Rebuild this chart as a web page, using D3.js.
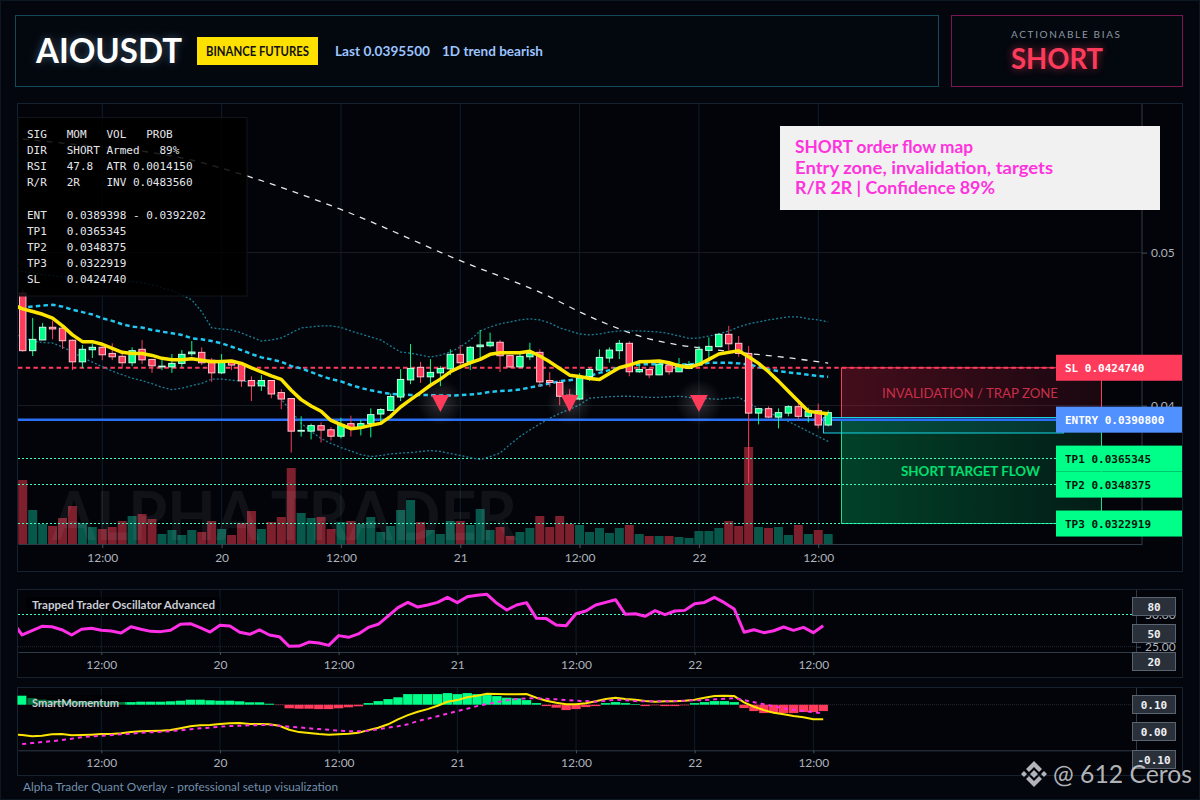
<!DOCTYPE html>
<html>
<head>
<meta charset="utf-8">
<script src="https://cdn.jsdelivr.net/npm/d3@7"></script>
<style>
  html, body { margin: 0; padding: 0; background: #03060d; }
  svg { display: block; }
  .ui { font-family: Lato, "Open Sans", sans-serif; }
  .mono { font-family: "DejaVu Sans Mono", "Liberation Mono", monospace; white-space: pre; }
</style>
</head>
<body>
<div id="chart"></div>
<script>
// hourly candles, first one is 19th 04:00
var opens = [0.04735,0.04359,0.04429,0.04512,0.04506,0.04427,0.04286,0.04365,0.04381,0.04341,0.04322,0.04280,0.04368,0.04302,0.04253,0.04253,0.04276,0.04339,0.04348,0.04297,0.04214,0.04284,0.04271,0.04164,0.04129,0.04164,0.04085,0.04046,0.03833,0.03833,0.03869,0.03842,0.03800,0.03882,0.03856,0.03882,0.03945,0.03969,0.04056,0.04168,0.04250,0.04188,0.04214,0.04240,0.04335,0.04286,0.04385,0.04391,0.04414,0.04328,0.04253,0.04319,0.04348,0.04164,0.04151,0.04068,0.04043,0.04190,0.04232,0.04311,0.04359,0.04407,0.04221,0.04236,0.04201,0.04265,0.04221,0.04243,0.04265,0.04361,0.04385,0.04466,0.04407,0.04341,0.03951,0.03980,0.03925,0.03951,0.03993,0.03930,0.03967,0.03873];
var highs = [0.04757,0.04573,0.04540,0.04555,0.04508,0.04433,0.04396,0.04407,0.04396,0.04407,0.04337,0.04381,0.04429,0.04304,0.04302,0.04337,0.04363,0.04422,0.04381,0.04311,0.04337,0.04297,0.04284,0.04192,0.04199,0.04166,0.04107,0.04048,0.03930,0.03882,0.03890,0.03859,0.03921,0.03934,0.03908,0.03982,0.03982,0.04079,0.04238,0.04402,0.04286,0.04304,0.04258,0.04368,0.04396,0.04389,0.04494,0.04477,0.04429,0.04330,0.04343,0.04411,0.04368,0.04219,0.04166,0.04107,0.04212,0.04245,0.04368,0.04381,0.04429,0.04420,0.04286,0.04245,0.04284,0.04284,0.04311,0.04291,0.04389,0.04446,0.04475,0.04521,0.04455,0.04389,0.03982,0.03995,0.03982,0.04002,0.04035,0.03987,0.04013,0.03969];
var lows = [0.04352,0.04324,0.04429,0.04433,0.04370,0.04232,0.04245,0.04311,0.04297,0.04297,0.04250,0.04258,0.04271,0.04214,0.04232,0.04214,0.04250,0.04322,0.04265,0.04155,0.04206,0.04232,0.04122,0.04030,0.04096,0.04048,0.03976,0.03693,0.03798,0.03779,0.03759,0.03772,0.03785,0.03798,0.03805,0.03792,0.03892,0.03963,0.04030,0.04140,0.04148,0.04127,0.04127,0.04199,0.04265,0.04232,0.04297,0.04381,0.04219,0.04245,0.04251,0.04297,0.04122,0.04122,0.04002,0.03976,0.04035,0.04162,0.04232,0.04280,0.04304,0.04192,0.04214,0.04179,0.04199,0.04201,0.04219,0.04238,0.04258,0.04297,0.04383,0.04359,0.04319,0.03496,0.03877,0.03917,0.03851,0.03930,0.03908,0.03890,0.03851,0.03864];
var closes = [0.04359,0.04433,0.04512,0.04501,0.04424,0.04286,0.04368,0.04381,0.04332,0.04319,0.04280,0.04359,0.04299,0.04260,0.04258,0.04276,0.04335,0.04350,0.04280,0.04214,0.04286,0.04265,0.04162,0.04129,0.04164,0.04076,0.04043,0.03833,0.03838,0.03869,0.03840,0.03800,0.03877,0.03856,0.03882,0.03941,0.03974,0.04059,0.04171,0.04243,0.04188,0.04217,0.04243,0.04335,0.04280,0.04381,0.04396,0.04414,0.04326,0.04253,0.04322,0.04341,0.04155,0.04151,0.04061,0.04022,0.04181,0.04236,0.04315,0.04363,0.04407,0.04221,0.04236,0.04201,0.04271,0.04221,0.04265,0.04269,0.04368,0.04387,0.04466,0.04404,0.04341,0.03951,0.03980,0.03925,0.03954,0.03993,0.03930,0.03961,0.03873,0.03954];
var volumes = [64.3,34.3,20.3,18.3,26.3,38.3,21,17.3,15.3,17.3,23.3,28.3,30.3,25.3,10.3,14.3,9.3,14.3,12.3,23.3,15.3,9.3,21.3,33.3,15.3,22.3,27.3,76.3,31.3,26.3,27.3,15.3,22.3,23.3,20.3,27.3,12.3,18.3,34.3,44.3,22.3,14.3,10.3,23.3,23.3,19.3,35.3,14.3,17.3,8.3,12.3,16.3,28.3,17.3,28.3,20.3,19.3,12.3,16.3,11.3,16.3,19.3,10.3,8.3,8.3,8.3,7.3,6.3,13.3,13.3,16.3,23.3,18.3,97.3,17.3,16.3,17.3,9.3,19.3,10.3,14.3,10.3];

// the first value of these lines belongs to the candle cut off at the left edge
var emaFast = [0.04658,0.04632,0.04615,0.04597,0.04571,0.04521,0.04462,0.04418,0.04418,0.04401,0.04374,0.04348,0.04341,0.04341,0.04328,0.04309,0.04299,0.04299,0.04306,0.04297,0.04286,0.04289,0.04291,0.04276,0.04247,0.04221,0.04194,0.04171,0.04100,0.04039,0.03997,0.03963,0.03903,0.03875,0.03849,0.03856,0.03871,0.03884,0.03930,0.03991,0.04039,0.04085,0.04133,0.04173,0.04221,0.04253,0.04280,0.04302,0.04335,0.04345,0.04345,0.04345,0.04355,0.04324,0.04286,0.04243,0.04199,0.04190,0.04177,0.04171,0.04210,0.04247,0.04265,0.04286,0.04289,0.04291,0.04280,0.04260,0.04250,0.04269,0.04302,0.04337,0.04348,0.04359,0.04319,0.04276,0.04221,0.04160,0.04094,0.04028,0.03963,0.03954,0.03947];
var bbMid = [0.04636,0.04641,0.04647,0.04654,0.04659,0.04647,0.04626,0.04611,0.04595,0.04571,0.04554,0.04532,0.04516,0.04510,0.04494,0.04483,0.04473,0.04462,0.04440,0.04433,0.04422,0.04407,0.04385,0.04363,0.04337,0.04315,0.04302,0.04286,0.04258,0.04243,0.04219,0.04194,0.04173,0.04158,0.04135,0.04115,0.04100,0.04087,0.04076,0.04072,0.04070,0.04070,0.04068,0.04066,0.04066,0.04068,0.04072,0.04079,0.04089,0.04096,0.04098,0.04105,0.04118,0.04131,0.04144,0.04160,0.04166,0.04177,0.04194,0.04214,0.04232,0.04250,0.04258,0.04269,0.04271,0.04271,0.04269,0.04269,0.04269,0.04273,0.04280,0.04280,0.04280,0.04276,0.04269,0.04253,0.04236,0.04225,0.04217,0.04210,0.04201,0.04194,0.04188];
var bbUpper = [0.04880,0.04875,0.04869,0.04855,0.04849,0.04842,0.04842,0.04836,0.04829,0.04823,0.04823,0.04816,0.04810,0.04803,0.04790,0.04770,0.04751,0.04724,0.04691,0.04613,0.04508,0.04501,0.04494,0.04475,0.04448,0.04422,0.04429,0.04442,0.04475,0.04508,0.04514,0.04521,0.04521,0.04511,0.04488,0.04468,0.04448,0.04429,0.04389,0.04350,0.04343,0.04330,0.04317,0.04330,0.04350,0.04383,0.04429,0.04488,0.04514,0.04534,0.04547,0.04560,0.04567,0.04560,0.04540,0.04508,0.04488,0.04468,0.04462,0.04468,0.04481,0.04488,0.04488,0.04488,0.04485,0.04481,0.04471,0.04455,0.04439,0.04442,0.04455,0.04468,0.04488,0.04514,0.04534,0.04547,0.04560,0.04570,0.04580,0.04580,0.04567,0.04560,0.04547];
var bbLower = [0.04466,0.04448,0.04422,0.04412,0.04409,0.04383,0.04350,0.04314,0.04284,0.04255,0.04225,0.04202,0.04179,0.04163,0.04143,0.04120,0.04104,0.04114,0.04130,0.04146,0.04173,0.04173,0.04166,0.04160,0.04156,0.04140,0.04100,0.04041,0.03963,0.03884,0.03831,0.03785,0.03752,0.03726,0.03703,0.03680,0.03667,0.03674,0.03684,0.03690,0.03693,0.03700,0.03706,0.03700,0.03687,0.03674,0.03660,0.03647,0.03667,0.03690,0.03746,0.03798,0.03841,0.03880,0.03917,0.03949,0.03976,0.04005,0.04048,0.04054,0.04058,0.04061,0.04061,0.04058,0.04054,0.04054,0.04058,0.04061,0.04054,0.04048,0.04045,0.04041,0.04048,0.04054,0.04015,0.03982,0.03959,0.03923,0.03897,0.03864,0.03831,0.03798,0.03766];
// slow average only read at a few candles
var emaSlowIdx = [0,5,14,17,22,32,44,53,56,60,62,66,69,72,76,81];
var emaSlow = [0.05742,0.05709,0.05643,0.05604,0.05512,0.05282,0.04947,0.04711,0.04613,0.04501,0.04455,0.04396,0.04370,0.04347,0.04320,0.04278];
var signalIdx = [42,55,68];
var signalPrice = 0.04032;

var slPrice = 0.042474;
var entryPrice = 0.03908;
var entryLow = 0.03821;
var entryHigh = 0.0392202;
var tpPrices = [0.0365345,0.0348375,0.0322919];
var tpNames = ["TP1","TP2","TP3"];

var osc = [44.4,34.1,37.4,40.8,40.5,38.2,34.1,38.5,39.3,37.7,37.2,35.6,40.5,38.5,36.9,36.7,37.7,42.4,42.9,39.8,36.4,41.6,41.1,36.2,34.6,38,34.1,32.8,25.3,25.5,28.6,27.9,26,33.6,32.3,34.9,40,42.4,48.8,55.3,59.4,55.8,57.4,59.4,63.3,59.2,63.8,64.9,65.7,58.7,53.5,57.4,59.2,47,46.8,41.8,41.3,50.6,52.7,57.4,59.4,61.5,50.1,50.6,48.6,53,49.9,52.7,53.2,58.4,59.4,63.3,59.2,54.3,36.2,38.2,35.9,37.4,40.3,37.7,40,35.9,41.3];
var momHist = [0.045,0.033,0.025,0.022,0.02,0.02,0.018,0.017,0.017,0.015,0.013,0.013,0.015,0.015,0.015,0.017,0.02,0.025,0.025,0.022,0.02,0.02,0.017,0.012,0.012,0.005,-0.002,-0.018,-0.02,-0.02,-0.022,-0.022,-0.018,-0.013,-0.008,0.008,0.018,0.028,0.037,0.053,0.053,0.053,0.053,0.058,0.053,0.058,0.053,0.048,0.043,0.035,0.032,0.023,0.008,-0.007,-0.015,-0.027,-0.022,-0.012,-0.007,0.008,0.013,0.008,0.003,-0.007,-0.003,-0.007,-0.007,-0.003,0.008,0.013,0.018,0.018,0.013,-0.017,-0.032,-0.042,-0.042,-0.042,-0.042,-0.037,-0.037,-0.032];
var momFast = [-0.148,-0.152,-0.158,-0.155,-0.148,-0.147,-0.153,-0.152,-0.15,-0.147,-0.147,-0.143,-0.137,-0.133,-0.132,-0.13,-0.127,-0.118,-0.108,-0.103,-0.102,-0.097,-0.093,-0.092,-0.097,-0.097,-0.098,-0.105,-0.125,-0.137,-0.142,-0.147,-0.15,-0.148,-0.145,-0.14,-0.127,-0.115,-0.098,-0.073,-0.052,-0.035,-0.022,-0.005,0.015,0.023,0.037,0.045,0.055,0.053,0.052,0.052,0.053,0.035,0.02,0.01,0.002,0.002,0.007,0.017,0.028,0.035,0.028,0.025,0.018,0.015,0.017,0.017,0.02,0.025,0.035,0.043,0.045,0.043,0.012,-0.01,-0.027,-0.04,-0.048,-0.057,-0.063,-0.073,-0.073];
var momSlow = [-0.197,-0.192,-0.187,-0.182,-0.177,-0.17,-0.163,-0.158,-0.155,-0.152,-0.148,-0.145,-0.14,-0.138,-0.135,-0.132,-0.128,-0.123,-0.118,-0.115,-0.11,-0.107,-0.105,-0.103,-0.102,-0.102,-0.105,-0.11,-0.113,-0.118,-0.122,-0.125,-0.13,-0.133,-0.133,-0.13,-0.123,-0.115,-0.108,-0.098,-0.082,-0.07,-0.058,-0.045,-0.032,-0.02,-0.007,0.003,0.013,0.022,0.028,0.032,0.032,0.03,0.027,0.023,0.02,0.018,0.015,0.02,0.025,0.022,0.018,0.017,0.017,0.017,0.018,0.02,0.022,0.023,0.027,0.03,0.032,0.023,0.012,0.002,-0.008,-0.018,-0.025,-0.032,-0.037,-0.043];

var infoLines = [
  "SIG   MOM   VOL   PROB",
  "DIR   SHORT Armed   89%",
  "RSI   47.8  ATR 0.0014150",
  "R/R   2R    INV 0.0483560",
  "",
  "ENT   0.0389398 - 0.0392202",
  "TP1   0.0365345",
  "TP2   0.0348375",
  "TP3   0.0322919",
  "SL    0.0424740"
];
var noteLines = ["SHORT order flow map", "Entry zone, invalidation, targets", "R/R 2R | Confidence 89%"];
var noteWidths = [178, 258, 200];
var oscBadges = ["80","50","20"];
var momBadges = ["0.10","0.00","-0.10"];

var green = "#00ff88";
var red = "#ff3b5c";
var hour = 3600000;
var t0 = Date.UTC(2025, 8, 19, 4);
var times = opens.map(function (d, i) { return new Date(t0 + i * hour); });
function timeAt(h) { return new Date(t0 + h * hour); }
var lineTimes = [timeAt(-1)].concat(times);

var tickTimes = [];
for (var h = 8; h < 82; h += 12) tickTimes.push(timeAt(h));
function tickLabel(d) {
  return d.getUTCHours() === 0 ? String(d.getUTCDate()) : "12:00";
}

var svg = d3.select("#chart").append("svg")
  .attr("width", 1200)
  .attr("height", 800);

var defs = svg.append("defs");
function hGrad(id, color, a, b) {
  var g = defs.append("linearGradient").attr("id", id);
  g.append("stop").attr("offset", "0%").attr("stop-color", color).attr("stop-opacity", a);
  g.append("stop").attr("offset", "100%").attr("stop-color", color).attr("stop-opacity", b);
}
hGrad("redZone", "#c8203f", 0.33, 0.12);
hGrad("greenZone", "#00d070", 0.3, 0.12);
var glow = defs.append("radialGradient").attr("id", "sigGlow");
glow.append("stop").attr("offset", "0%").attr("stop-color", "#fff").attr("stop-opacity", 0.17);
glow.append("stop").attr("offset", "100%").attr("stop-color", "#fff").attr("stop-opacity", 0);
defs.append("filter").attr("id", "soft").attr("x", "-30%").attr("y", "-60%").attr("width", "160%").attr("height", "220%")
  .append("feGaussianBlur").attr("stdDeviation", 4);
defs.append("clipPath").attr("id", "mainClip").append("rect")
  .attr("x", 18).attr("y", 104).attr("width", 1124).attr("height", 440);
defs.append("clipPath").attr("id", "subClip").append("rect")
  .attr("x", 18).attr("y", 589).attr("width", 1118).attr("height", 190);

// squeeze a text to the width it has in the picture
function fit(sel, w) {
  return sel.attr("textLength", w).attr("lengthAdjust", "spacingAndGlyphs");
}

svg.append("rect").attr("x", 0.5).attr("y", 0.5).attr("width", 1199).attr("height", 799)
  .attr("fill", "none").attr("stroke", "#0d1722");

// header
svg.append("rect").attr("x", 15.5).attr("y", 15.5).attr("width", 923).attr("height", 71)
  .attr("fill", "#03070e").attr("stroke", "#134a59");
svg.append("rect").attr("x", 951.5).attr("y", 15.5).attr("width", 231).attr("height", 71)
  .attr("fill", "#03070e").attr("stroke", "#7a1650");

svg.append("text").attr("class", "ui").attr("x", 36).attr("y", 63)
  .attr("font-size", 35).attr("font-weight", 700).attr("fill", "#9fd8ff").attr("opacity", 0.35)
  .attr("filter", "url(#soft)").text("AIOUSDT").call(fit, 146);
svg.append("text").attr("class", "ui").attr("x", 36).attr("y", 63)
  .attr("font-size", 35).attr("font-weight", 700).attr("fill", "#fff").text("AIOUSDT").call(fit, 146);
svg.append("rect").attr("x", 197).attr("y", 37).attr("width", 121).attr("height", 28).attr("fill", "#ffe100");
svg.append("text").attr("class", "ui").attr("x", 206).attr("y", 55.5)
  .attr("font-size", 12.5).attr("font-weight", 700).attr("fill", "#111").text("BINANCE FUTURES").call(fit, 103);
svg.append("text").attr("class", "ui").attr("x", 335).attr("y", 56)
  .attr("font-size", 13.5).attr("font-weight", 700).attr("fill", "#9cc4ff").text("Last 0.0395500").call(fit, 95);
svg.append("text").attr("class", "ui").attr("x", 442).attr("y", 56)
  .attr("font-size", 13.5).attr("font-weight", 700).attr("fill", "#9cc4ff").text("1D trend bearish").call(fit, 101);
svg.append("text").attr("class", "ui").attr("x", 1011).attr("y", 38)
  .attr("font-size", 10).attr("fill", "#8d97a3").text("ACTIONABLE BIAS")
  .attr("textLength", 109).attr("lengthAdjust", "spacing");
svg.append("text").attr("class", "ui").attr("x", 1011).attr("y", 69)
  .attr("font-size", 29).attr("font-weight", 700).attr("fill", red).attr("opacity", 0.6)
  .attr("filter", "url(#soft)").text("SHORT").call(fit, 92);
svg.append("text").attr("class", "ui").attr("x", 1011).attr("y", 69)
  .attr("font-size", 29).attr("font-weight", 700).attr("fill", red).text("SHORT").call(fit, 92);

// panel frames
[[103.5, 468], [589.5, 88], [687.5, 88]].forEach(function (p) {
  svg.append("rect").attr("x", 17.5).attr("y", p[0]).attr("width", 1165).attr("height", p[1])
    .attr("fill", "#02040a").attr("stroke", "#18222e");
});

// main panel
var x = d3.scaleUtc().domain([timeAt(-0.477), timeAt(112.56)]).range([18, 1142]);
var y = d3.scaleLinear().domain([0.04, 0.05]).range([405.6, 252.6]);
var yVol = d3.scaleLinear().domain([0, 100]).range([544.3, 444.3]);

var main = svg.append("g");
var plot = main.append("g").attr("clip-path", "url(#mainClip)");

plot.selectAll(".vgrid").data(tickTimes).enter().append("line")
  .attr("class", "vgrid")
  .attr("x1", function (d) { return x(d); }).attr("x2", function (d) { return x(d); })
  .attr("y1", 104).attr("y2", 544)
  .attr("stroke", "#0f1e29");
plot.selectAll(".hgrid").data([0.05, 0.04]).enter().append("line")
  .attr("class", "hgrid")
  .attr("x1", 18).attr("x2", 1142)
  .attr("y1", function (d) { return y(d); }).attr("y2", function (d) { return y(d); })
  .attr("stroke", "#1a1e24");

var barW = 9;
plot.selectAll(".vol").data(volumes).enter().append("rect")
  .attr("class", "vol")
  .attr("x", function (d, i) { return x(times[i]) - barW / 2; })
  .attr("y", function (d) { return yVol(d); })
  .attr("width", barW)
  .attr("height", function (d) { return yVol(0) - yVol(d); })
  .attr("fill", function (d, i) { return closes[i] >= opens[i] ? "#07584b" : "#7d1f2d"; });

// zones
plot.append("rect").attr("x", 841.5).attr("y", y(slPrice)).attr("width", 260)
  .attr("height", y(entryHigh) - y(slPrice))
  .attr("fill", "url(#redZone)").attr("stroke", red).attr("stroke-width", 1);
plot.append("rect").attr("x", 841.5).attr("y", y(entryPrice)).attr("width", 260)
  .attr("height", y(tpPrices[2]) - y(entryPrice))
  .attr("fill", "url(#greenZone)").attr("stroke", "#19dd8c").attr("stroke-width", 1);
plot.append("rect").attr("x", 823.5).attr("y", y(entryHigh)).attr("width", 240)
  .attr("height", y(entryLow) - y(entryHigh))
  .attr("fill", "#1bbcd0").attr("fill-opacity", 0.12).attr("stroke", "#19d6e8").attr("stroke-width", 1);

// levels
plot.append("line").attr("x1", 18).attr("x2", 1056).attr("y1", y(slPrice)).attr("y2", y(slPrice))
  .attr("stroke", red).attr("stroke-width", 2).attr("stroke-dasharray", "4.5 3.2");
plot.append("line").attr("x1", 18).attr("x2", 1056).attr("y1", y(entryPrice)).attr("y2", y(entryPrice))
  .attr("stroke", "#2a6ff5").attr("stroke-width", 2.5);
plot.selectAll(".tp").data(tpPrices).enter().append("line")
  .attr("class", "tp")
  .attr("x1", 18).attr("x2", 1056)
  .attr("y1", function (d) { return y(d); }).attr("y2", function (d) { return y(d); })
  .attr("stroke", "#3dffc0").attr("stroke-width", 1).attr("stroke-dasharray", "2 2")
  .attr("shape-rendering", "crispEdges");

function lineOf(scaleX, scaleY, xs) {
  return d3.line()
    .x(function (d, i) { return scaleX(xs[i]); })
    .y(function (d) { return scaleY(d); });
}

plot.append("path").datum(emaSlow)
  .attr("d", lineOf(x, y, emaSlowIdx.map(function (i) { return times[i]; })).curve(d3.curveMonotoneX))
  .attr("fill", "none").attr("stroke", "#e8e8e8").attr("stroke-width", 1.3).attr("stroke-dasharray", "6 6");
[bbUpper, bbLower].forEach(function (band) {
  plot.append("path").datum(band)
    .attr("d", lineOf(x, y, lineTimes))
    .attr("fill", "none").attr("stroke", "#1b7f94").attr("stroke-width", 1.3).attr("stroke-dasharray", "2 2");
});
plot.append("path").datum(bbMid)
  .attr("d", lineOf(x, y, lineTimes))
  .attr("fill", "none").attr("stroke", "#22c8f0").attr("stroke-width", 2.5).attr("stroke-dasharray", "4.5 3.2");

// candles
var bodyW = 6.4;
var candles = plot.selectAll(".candle").data(opens).enter().append("g").attr("class", "candle");
candles.append("line")
  .attr("x1", function (d, i) { return x(times[i]); })
  .attr("x2", function (d, i) { return x(times[i]); })
  .attr("y1", function (d, i) { return y(highs[i]); })
  .attr("y2", function (d, i) { return y(lows[i]); })
  .attr("stroke", function (d, i) { return closes[i] >= opens[i] ? green : red; });
candles.append("rect")
  .attr("x", function (d, i) { return x(times[i]) - bodyW / 2; })
  .attr("y", function (d, i) { return y(Math.max(opens[i], closes[i])); })
  .attr("width", bodyW)
  .attr("height", function (d, i) { return Math.abs(y(opens[i]) - y(closes[i])); })
  .attr("fill", function (d, i) { return closes[i] >= opens[i] ? green : red; })
  .attr("stroke", function (d, i) { return closes[i] >= opens[i] ? "#c8ffe6" : "#ffc4cf"; })
  .attr("stroke-width", 1);

plot.append("path").datum(emaFast)
  .attr("d", lineOf(x, y, lineTimes))
  .attr("fill", "none").attr("stroke", "#ffe600").attr("stroke-width", 3.5).attr("stroke-linejoin", "round");

// sell signals
var sigs = plot.selectAll(".sig").data(signalIdx).enter().append("g")
  .attr("class", "sig")
  .attr("transform", function (d) { return "translate(" + x(times[d]) + "," + y(signalPrice) + ")"; });
sigs.append("circle").attr("cy", 2).attr("r", 23).attr("fill", "url(#sigGlow)");
sigs.append("path")
  .attr("d", d3.symbol().type(d3.symbolTriangle).size(135))
  .attr("transform", "rotate(180) scale(1,1.1)")
  .attr("fill", red);

// big watermark
plot.append("text").attr("class", "ui").attr("x", 52).attr("y", 540)
  .attr("font-size", 66).attr("font-weight", 700)
  .attr("fill", "#fff").attr("fill-opacity", 0.06).text("ALPHA TRADER").call(fit, 465);

// axes
var xAxisMain = d3.axisBottom(x).tickValues(tickTimes).tickFormat(tickLabel).tickSize(4).tickSizeOuter(0).tickPadding(5);
var yAxisMain = d3.axisRight(y).tickValues([0.05, 0.04]).tickFormat(d3.format(".2f")).tickSize(5).tickSizeOuter(0).tickPadding(4);

function styleAxis(g) {
  g.selectAll("text").attr("class", "ui").attr("font-size", 12).attr("fill", "#aeb3bb");
  g.selectAll("line").attr("stroke", "#46505e");
  g.select(".domain").attr("stroke", "#2f3a48");
}
main.append("g").attr("transform", "translate(0,544)").call(xAxisMain).call(styleAxis);
var priceAxis = main.append("g").attr("transform", "translate(1142,0)").call(yAxisMain).call(styleAxis);
priceAxis.select(".domain").attr("d", "M0,104V544");

// price tags on the right
function priceTag(label, value, fill, textFill) {
  var py = y(value);
  svg.append("rect").attr("x", 1056).attr("y", py - 13).attr("width", 126).attr("height", 26).attr("fill", fill);
  svg.append("text").attr("class", "mono").attr("x", 1065).attr("y", py + 4)
    .attr("font-size", 11).attr("font-weight", 700).attr("fill", textFill)
    .text(label + " " + value.toFixed(7));
}
priceTag("SL", slPrice, red, "#fff");
priceTag("ENTRY", entryPrice, "#5090ff", "#fff");
tpPrices.forEach(function (d, i) { priceTag(tpNames[i], d, green, "#04140c"); });

svg.append("text").attr("class", "ui").attr("x", 882).attr("y", 398)
  .attr("font-size", 13.5).attr("fill", "#c92f49").text("INVALIDATION / TRAP ZONE").call(fit, 176);
svg.append("text").attr("class", "ui").attr("x", 901).attr("y", 476)
  .attr("font-size", 13.5).attr("font-weight", 700).attr("fill", "#00e070").text("SHORT TARGET FLOW").call(fit, 139);

// setup table over the chart
svg.append("rect").attr("x", 18).attr("y", 117.5).attr("width", 229).attr("height", 178.5)
  .attr("fill", "#000").attr("fill-opacity", 0.85).attr("stroke", "#11161d");
svg.selectAll(".info").data(infoLines).enter().append("text")
  .attr("class", "info mono")
  .attr("x", 27)
  .attr("y", function (d, i) { return 138 + i * 16.12; })
  .attr("font-size", 11)
  .attr("fill", "#e4e6ea")
  .text(function (d) { return d; });

// note box
svg.append("rect").attr("x", 780).attr("y", 126).attr("width", 380).attr("height", 84).attr("fill", "#f1f1f1");
svg.selectAll(".note").data(noteLines).enter().append("text")
  .attr("class", "note ui")
  .attr("x", 795)
  .attr("y", function (d, i) { return 153 + i * 20.5; })
  .attr("font-size", 16.5).attr("font-weight", 700)
  .attr("fill", "#ff33dd")
  .attr("textLength", function (d, i) { return noteWidths[i]; })
  .attr("lengthAdjust", "spacingAndGlyphs")
  .text(function (d) { return d; });

// sub panels share this time scale
var xSub = d3.scaleUtc().domain([timeAt(-0.423), timeAt(112.63)]).range([18, 1136]);

function subPanel(axisY, top) {
  var g = svg.append("g");
  g.selectAll(".vgrid").data(tickTimes).enter().append("line")
    .attr("class", "vgrid")
    .attr("x1", function (d) { return xSub(d); }).attr("x2", function (d) { return xSub(d); })
    .attr("y1", top).attr("y2", axisY)
    .attr("stroke", "#0f1e29");
  g.append("g").attr("transform", "translate(0," + axisY + ")")
    .call(d3.axisBottom(xSub).tickValues(tickTimes).tickFormat(tickLabel).tickSize(3).tickSizeOuter(0).tickPadding(5))
    .call(styleAxis);
  g.append("line").attr("x1", 1136.5).attr("x2", 1136.5).attr("y1", top).attr("y2", axisY).attr("stroke", "#2f3a48");
  return g;
}

function badges(labels, tops) {
  labels.forEach(function (d, i) {
    svg.append("rect").attr("x", 1132.5).attr("y", tops[i]).attr("width", 43).attr("height", 18)
      .attr("fill", "#2a303a").attr("stroke", "#5a6470");
    svg.append("text").attr("class", "mono").attr("x", 1154).attr("y", tops[i] + 13)
      .attr("text-anchor", "middle").attr("font-size", 11).attr("font-weight", 700)
      .attr("fill", "#eef0f3").text(d);
  });
}

// oscillator
var yOsc = d3.scaleLinear().domain([25, 50]).range([646.7, 614.5]);
var oscG = subPanel(652, 590);
oscG.append("line").attr("x1", 18).attr("x2", 1136).attr("y1", yOsc(50)).attr("y2", yOsc(50))
  .attr("stroke", "#3dffc0").attr("stroke-dasharray", "2 2").attr("shape-rendering", "crispEdges");
oscG.append("line").attr("x1", 18).attr("x2", 1136).attr("y1", yOsc(25)).attr("y2", yOsc(25))
  .attr("stroke", "#23282f").attr("stroke-dasharray", "1 1");
oscG.append("path").datum(osc)
  .attr("d", lineOf(xSub, yOsc, lineTimes))
  .attr("clip-path", "url(#subClip)")
  .attr("fill", "none").attr("stroke", "#ff2fe6").attr("stroke-width", 3).attr("stroke-linejoin", "round");
oscG.append("g").attr("transform", "translate(1136,0)")
  .call(d3.axisRight(yOsc).tickValues([50, 25]).tickFormat(d3.format(".2f")).tickSize(5).tickPadding(4))
  .call(styleAxis)
  .select(".domain").remove();
svg.append("rect").attr("x", 26).attr("y", 597).attr("width", 194).attr("height", 16).attr("fill", "#000").attr("fill-opacity", 0.55);
svg.append("text").attr("class", "ui").attr("x", 32).attr("y", 609)
  .attr("font-size", 12).attr("font-weight", 700).attr("fill", "#c9cdd4").text("Trapped Trader Oscillator Advanced").call(fit, 183);
badges(oscBadges, [597.5, 624.5, 652.5]);

// momentum
var yMom = d3.scaleLinear().domain([0, 0.1]).range([704.7, 684.7]);
var momG = subPanel(750.3, 688);
momG.append("line").attr("x1", 18).attr("x2", 1136).attr("y1", yMom(0)).attr("y2", yMom(0))
  .attr("stroke", "#23282f").attr("stroke-dasharray", "1 1");
momG.selectAll(".hist").data(momHist).enter().append("rect")
  .attr("class", "hist")
  .attr("x", function (d, i) { return xSub(times[i]) - 4.7; })
  .attr("y", function (d) { return d >= 0 ? yMom(d) : yMom(0); })
  .attr("width", 9.4)
  .attr("height", function (d) { return Math.abs(yMom(d) - yMom(0)); })
  .attr("fill", function (d) { return d >= 0 ? green : red; });
momG.append("path").datum(momFast)
  .attr("d", lineOf(xSub, yMom, lineTimes))
  .attr("clip-path", "url(#subClip)")
  .attr("fill", "none").attr("stroke", "#ffe600").attr("stroke-width", 2);
momG.append("path").datum(momSlow)
  .attr("d", lineOf(xSub, yMom, times))
  .attr("fill", "none").attr("stroke", "#ff2fe6").attr("stroke-width", 2).attr("stroke-dasharray", "4 4");
svg.append("rect").attr("x", 26).attr("y", 695).attr("width", 99).attr("height", 16).attr("fill", "#000").attr("fill-opacity", 0.55);
svg.append("text").attr("class", "ui").attr("x", 32).attr("y", 707)
  .attr("font-size", 12).attr("font-weight", 700).attr("fill", "#c9cdd4").text("SmartMomentum").call(fit, 87);
badges(momBadges, [695.5, 722.5, 750.5]);

// footer
svg.append("text").attr("class", "ui").attr("x", 23).attr("y", 791)
  .attr("font-size", 11.5).attr("fill", "#7390ac")
  .text("Alpha Trader Quant Overlay - professional setup visualization").call(fit, 315);

// source mark, bottom right
var mark = svg.append("g").attr("transform", "translate(1034,774)").attr("fill", "#d2d4d8").attr("fill-opacity", 0.85);
mark.append("path").attr("d", "M0,-4L4,0L0,4L-4,0Z");
mark.append("path").attr("d", "M-13,0L-10,-3L-7,0L-10,3Z");
mark.append("path").attr("d", "M13,0L10,-3L7,0L10,3Z");
mark.append("path").attr("d", "M0,-13L8,-5L5,-2L0,-7L-5,-2L-8,-5Z");
mark.append("path").attr("d", "M0,13L8,5L5,2L0,7L-5,2L-8,5Z");
svg.append("text").attr("class", "ui").attr("x", 1053).attr("y", 783)
  .attr("font-size", 25).attr("fill", "#d2d4d8").attr("fill-opacity", 0.85).text("@ 612 Ceros").call(fit, 139);
</script>
</body>
</html>
